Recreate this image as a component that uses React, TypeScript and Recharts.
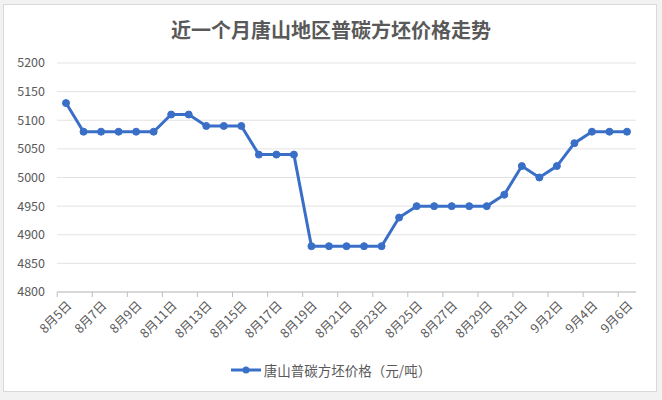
import React from 'react';
import { LineChart, Line, XAxis, YAxis, CartesianGrid, Legend } from 'recharts';

const dates = [
  '8月5日', '8月6日', '8月7日', '8月8日', '8月9日', '8月10日', '8月11日', '8月12日', '8月13日',
  '8月14日', '8月15日', '8月16日', '8月17日', '8月18日', '8月19日', '8月20日', '8月21日',
  '8月22日', '8月23日', '8月24日', '8月25日', '8月26日', '8月27日', '8月28日', '8月29日',
  '8月30日', '8月31日', '9月1日', '9月2日', '9月3日', '9月4日', '9月5日', '9月6日',
];

const prices = [
  5130, 5080, 5080, 5080, 5080, 5080, 5110, 5110, 5090,
  5090, 5090, 5040, 5040, 5040, 4880, 4880, 4880,
  4880, 4880, 4930, 4950, 4950, 4950, 4950, 4950,
  4970, 5020, 5000, 5020, 5060, 5080, 5080, 5080,
];

const yTicks = [4800, 4850, 4900, 4950, 5000, 5050, 5100, 5150, 5200];

const seriesName = '唐山普碳方坯价格（元/吨）';
const title = '近一个月唐山地区普碳方坯价格走势';

const data = dates.map((d, i) => ({ date: d, price: prices[i] }));

const FONT = '"Noto Sans CJK SC", "Noto Sans", sans-serif';
const TEXT = '#595959';
const BLUE = '#3a6fc8';

// half a category, so tick marks sit between categories like Excel does
const HALF = 8.8;

const XTick = (props: any) => {
  const { x, y, payload } = props;
  return (
    <g>
      <line x1={x - HALF} y1={y - 8} x2={x - HALF} y2={y - 3} stroke="#bfbfbf" />
      <text
        x={x + 4}
        y={y + 4}
        textAnchor="end"
        transform={`rotate(-45 ${x + 4} ${y + 4})`}
        fill={TEXT}
        fontSize={12.5}
        fontFamily={FONT}
        dominantBaseline="middle"
      >
        {payload.value}
      </text>
    </g>
  );
};

const legendContent = () => (
  <div style={{ display: 'flex', justifyContent: 'center', alignItems: 'center', fontFamily: FONT, fontSize: 13.5, color: TEXT }}>
    <svg width={30} height={12} style={{ marginRight: 3 }}>
      <line x1={0} y1={6} x2={30} y2={6} stroke={BLUE} strokeWidth={3} />
      <circle cx={15} cy={6} r={3.5} fill={BLUE} />
    </svg>
    <span>{seriesName}</span>
  </div>
);

export default function App() {
  return (
    <div style={{ position: 'absolute', left: 0, top: 0, width: 662, height: 400, background: '#f2f2f2' }}>
      <div
        style={{
          position: 'absolute',
          left: 3,
          top: 4,
          width: 654,
          height: 388,
          background: '#fff',
          border: '1px solid #d9d9d9',
          boxSizing: 'border-box',
        }}
      />
      <div
        style={{
          position: 'absolute',
          left: 0,
          top: 15,
          width: 662,
          textAlign: 'center',
          fontFamily: FONT,
          fontSize: 20,
          fontWeight: 700,
          color: TEXT,
        }}
      >
        {title}
      </div>
      <div style={{ position: 'absolute', left: 0, top: 0 }}>
        <LineChart width={662} height={392} data={data} margin={{ top: 63, right: 26, left: 0, bottom: 12 }}>
          <CartesianGrid vertical={false} stroke="#e3e3e3" />
          <XAxis
            dataKey="date"
            interval={1}
            tick={<XTick />}
            tickLine={false}
            axisLine={{ stroke: '#bfbfbf' }}
            padding={{ left: 9, right: 9 }}
            height={68}
          />
          <YAxis
            domain={[4800, 5200]}
            ticks={yTicks}
            width={57}
            tickSize={0}
            tickMargin={12}
            axisLine={false}
            tickLine={false}
            tick={{ fill: TEXT, fontSize: 12.5, fontFamily: FONT }}
          />
          <Legend verticalAlign="bottom" content={legendContent} wrapperStyle={{ left: 0, width: 662 }} />
          <Line
            type="linear"
            dataKey="price"
            name={seriesName}
            stroke={BLUE}
            strokeWidth={3}
            dot={{ r: 3.5, fill: BLUE, stroke: BLUE, strokeWidth: 1 }}
            isAnimationActive={false}
          />
        </LineChart>
      </div>
    </div>
  );
}
